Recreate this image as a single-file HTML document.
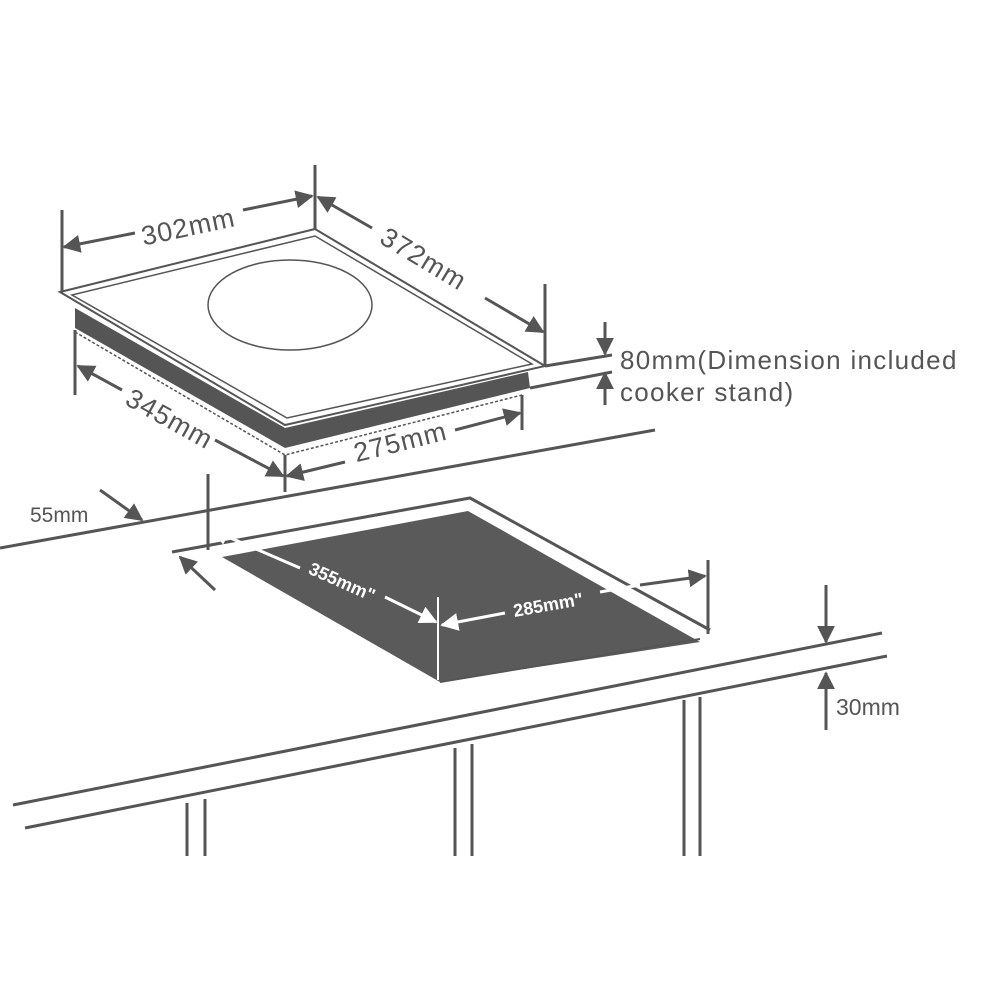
<!DOCTYPE html>
<html><head><meta charset="utf-8"><style>html,body{margin:0;padding:0;background:#fff}svg{display:block}</style></head>
<body>
<svg width="1000" height="1000" viewBox="0 0 1000 1000" xmlns="http://www.w3.org/2000/svg" font-family="Liberation Sans, sans-serif">
<defs>
<marker id="a" viewBox="0 0 10 10" refX="9" refY="5" markerWidth="6" markerHeight="6" orient="auto-start-reverse"><path d="M0,0 L10,5 L0,10 z" fill="#555"/></marker>
<marker id="w" viewBox="0 0 10 10" refX="9" refY="5" markerWidth="6" markerHeight="6" orient="auto-start-reverse"><path d="M0,0 L10,5 L0,10 z" fill="#fff"/></marker>
</defs>
<g stroke="#555" fill="none" stroke-width="3">
<polygon points="75,308 285,428 528,372 530,388 285,448 75,328" fill="#555" stroke="none"/>
<polygon points="60,292 315,229 545,366 285,425" fill="#fff" stroke-width="2"/>
<polygon points="72,295 315,236 532,364 287,418" stroke-width="1.5"/>
<ellipse cx="290" cy="305" rx="82" ry="45" stroke-width="1.5"/>
<polyline points="75,332 285,455 522,395" stroke-width="1.5" stroke-dasharray="3,2"/>
<line x1="62" y1="210" x2="62" y2="292"/>
<line x1="315" y1="165" x2="315" y2="229"/>
<line x1="545" y1="284" x2="545" y2="366"/>
<line x1="75" y1="330" x2="75" y2="395"/>
<line x1="285" y1="455" x2="285" y2="492"/>
<line x1="522" y1="395" x2="522" y2="430"/>
<line x1="545" y1="366" x2="612" y2="355"/>
<line x1="530" y1="388" x2="612" y2="372"/>
<line x1="64" y1="247" x2="135" y2="233" marker-start="url(#a)"/>
<line x1="243" y1="210" x2="312" y2="196" marker-end="url(#a)"/>
<line x1="318" y1="197" x2="372" y2="228" marker-start="url(#a)"/>
<line x1="485" y1="298" x2="543" y2="332" marker-end="url(#a)"/>
<line x1="605" y1="322" x2="605" y2="354" marker-end="url(#a)"/>
<line x1="605" y1="405" x2="605" y2="373" marker-end="url(#a)"/>
<line x1="78" y1="366" x2="122" y2="390" marker-start="url(#a)"/>
<line x1="215" y1="440" x2="283" y2="476" marker-end="url(#a)"/>
<line x1="287" y1="476" x2="345" y2="462" marker-start="url(#a)"/>
<line x1="455" y1="430" x2="520" y2="413" marker-end="url(#a)"/>
<line x1="0" y1="548" x2="655" y2="430"/>
<line x1="100" y1="490" x2="142" y2="520" marker-end="url(#a)"/>
<polygon points="222,557 468,511 700,642 440,682" fill="#5a5a5a" stroke="none"/>
<polyline points="172,552 470,498 710,630"/>
<line x1="208" y1="474" x2="208" y2="550"/>
<line x1="708" y1="560" x2="708" y2="634"/>
<line x1="215" y1="590" x2="180" y2="557" marker-end="url(#a)"/>
<line x1="700" y1="639" x2="440" y2="682" stroke-width="2"/>
</g>
<g stroke="#fff" stroke-width="3">
<line x1="212" y1="530" x2="300" y2="568" marker-start="url(#w)"/>
<line x1="385" y1="597" x2="436" y2="622" marker-end="url(#w)"/>
<line x1="442" y1="625" x2="505" y2="613" marker-start="url(#w)"/>
<line x1="600" y1="592" x2="640" y2="585"/>
<line x1="438" y1="597" x2="438" y2="680" stroke-width="2"/>
</g>
<g stroke="#555" stroke-width="3">
<line x1="640" y1="585" x2="705" y2="576" marker-end="url(#a)"/>
<line x1="13" y1="805" x2="882" y2="633"/>
<line x1="25" y1="828" x2="887" y2="656"/>
<line x1="187" y1="803" x2="187" y2="856"/><line x1="205" y1="799" x2="205" y2="856"/>
<line x1="455" y1="748" x2="455" y2="856"/><line x1="472" y1="744" x2="472" y2="856"/>
<line x1="684" y1="700" x2="684" y2="856"/><line x1="700" y1="697" x2="700" y2="856"/>
<line x1="826" y1="585" x2="826" y2="642" marker-end="url(#a)"/>
<line x1="826" y1="730" x2="826" y2="673" marker-end="url(#a)"/>
</g>
<g fill="#555" font-size="27" letter-spacing="1">
<text x="188" y="236" text-anchor="middle" transform="rotate(-12 188 226)">302mm</text>
<text x="424" y="268" text-anchor="middle" transform="rotate(31 424 258)">372mm</text>
<text x="170" y="428" text-anchor="middle" transform="rotate(29 170 418)">345mm</text>
<text x="400" y="451" text-anchor="middle" transform="rotate(-14 400 441)">275mm</text>
<text x="620" y="369" font-size="26" letter-spacing="1.3">80mm(Dimension included</text>
<text x="620" y="401" font-size="26" letter-spacing="1.3">cooker stand)</text>
<text x="30" y="522" font-size="21" letter-spacing="0">55mm</text>
<text x="836" y="715" font-size="23" letter-spacing="0">30mm</text>
</g>
<g fill="#fff" font-size="18" font-weight="bold">
<text x="342" y="588" text-anchor="middle" transform="rotate(24 342 582)">355mm"</text>
<text x="548" y="611" text-anchor="middle" transform="rotate(-10 548 604)">285mm"</text>
</g>
</svg>
</body></html>
